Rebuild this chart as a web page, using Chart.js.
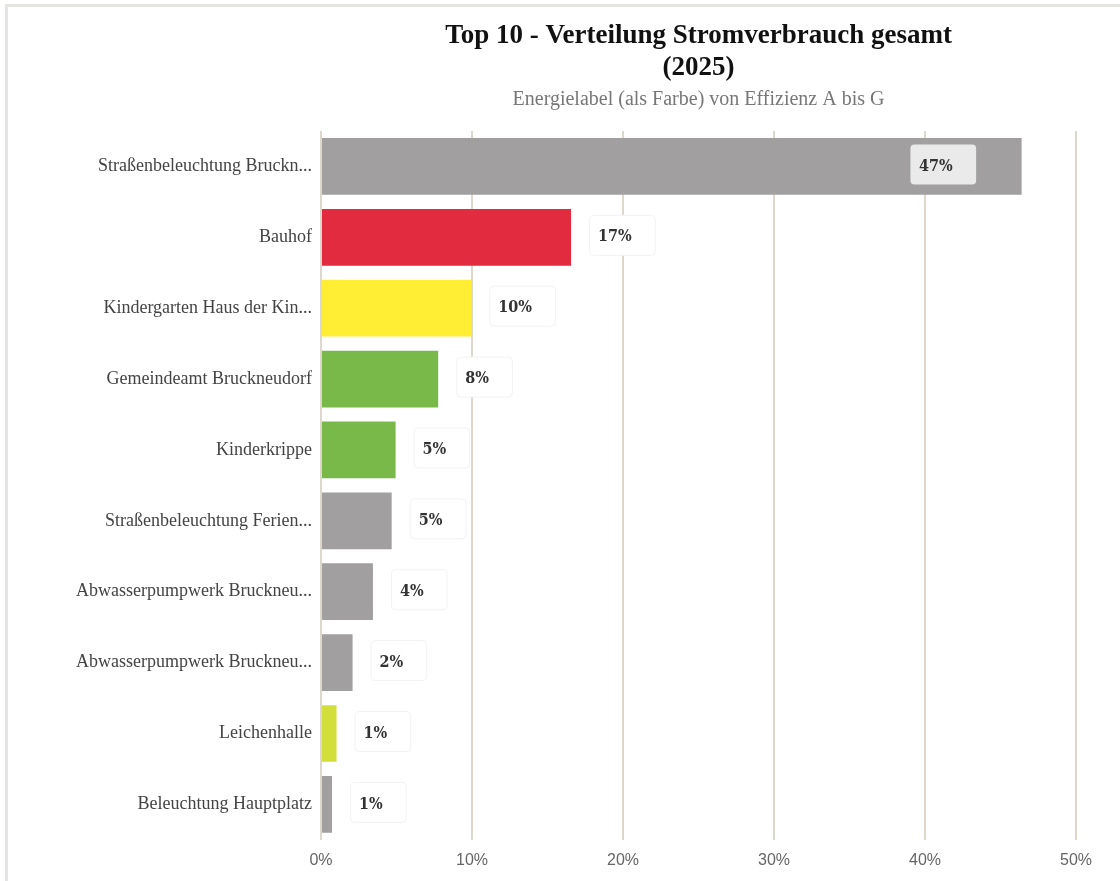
<!DOCTYPE html>
<html>
<head>
<meta charset="utf-8">
<script src="https://cdn.jsdelivr.net/npm/chart.js@4/dist/chart.umd.min.js"></script>
<style>
  html, body { margin: 0; padding: 0; background: #ffffff; overflow: hidden; }
  #frame { position: absolute; left: 5px; top: 4px; width: 1300px; height: 1100px;
           border-left: 3px solid #e5e5e1; border-top: 3px solid #e5e5e1; box-sizing: border-box; }
  #wrap { position: absolute; left: 0; top: 0; width: 1120px; height: 881px; }
</style>
</head>
<body>
<div id="frame"></div>
<div id="wrap"><canvas id="c"></canvas></div>
<script>
const categories = [
  'Straßenbeleuchtung Bruckn...',
  'Bauhof',
  'Kindergarten Haus der Kin...',
  'Gemeindeamt Bruckneudorf',
  'Kinderkrippe',
  'Straßenbeleuchtung Ferien...',
  'Abwasserpumpwerk Bruckneu...',
  'Abwasserpumpwerk Bruckneu...',
  'Leichenhalle',
  'Beleuchtung Hauptplatz'
];
const shares = [46.4, 16.56, 9.95, 7.76, 4.94, 4.68, 3.44, 2.09, 1.03, 0.73];
const shareLabels = ['47%', '17%', '10%', '8%', '5%', '5%', '4%', '2%', '1%', '1%'];
const barColors = ['#a19f9f', '#e32b3f', '#ffee33', '#78b94a', '#78b94a', '#a19f9f', '#a19f9f', '#a19f9f', '#d2df3a', '#a19f9f'];
const xTicks = [0, 10, 20, 30, 40, 50];

const titleLines = ['Top 10 - Verteilung Stromverbrauch gesamt', '(2025)'];
const subtitleText = 'Energielabel (als Farbe) von Effizienz A bis G';

function roundRect(ctx, x, y, w, h, r) {
  ctx.beginPath();
  ctx.moveTo(x + r, y);
  ctx.lineTo(x + w - r, y);
  ctx.quadraticCurveTo(x + w, y, x + w, y + r);
  ctx.lineTo(x + w, y + h - r);
  ctx.quadraticCurveTo(x + w, y + h, x + w - r, y + h);
  ctx.lineTo(x + r, y + h);
  ctx.quadraticCurveTo(x, y + h, x, y + h - r);
  ctx.lineTo(x, y + r);
  ctx.quadraticCurveTo(x, y, x + r, y);
  ctx.closePath();
}

const valueLabelPlugin = {
  id: 'valueLabels',
  afterDatasetsDraw(chart) {
    const ctx = chart.ctx;
    const meta = chart.getDatasetMeta(0);
    const area = chart.chartArea;
    ctx.save();
    ctx.font = "bold 16px 'DejaVu Serif Condensed', 'DejaVu Serif', serif";
    ctx.textBaseline = 'middle';
    ctx.textAlign = 'left';
    meta.data.forEach((bar, i) => {
      const text = shareLabels[i];
      const w = ctx.measureText(text).width;
      const bw = w + 32, bh = 40;
      let x0 = bar.x + 18;
      let inside = false;
      if (x0 + bw > area.right) {
        inside = true;
        x0 = bar.x - 46 - bw;
      }
      const y0 = bar.y - 2.5 - bh / 2;
      roundRect(ctx, x0 + 0.5, y0 + 0.5, bw, bh, 4);
      if (inside) {
        ctx.fillStyle = '#eaeaea';
        ctx.fill();
      } else {
        ctx.fillStyle = '#ffffff';
        ctx.fill();
        ctx.strokeStyle = '#f2f2f2';
        ctx.lineWidth = 1;
        ctx.stroke();
      }
      ctx.fillStyle = '#333333';
      ctx.fillText(text, x0 + 9, bar.y);
    });
    ctx.restore();
  }
};

new Chart(document.getElementById('c'), {
  type: 'bar',
  data: {
    labels: categories,
    datasets: [{
      data: shares,
      backgroundColor: barColors,
      borderWidth: 0,
      barPercentage: 0.8,
      categoryPercentage: 1.0
    }]
  },
  options: {
    indexAxis: 'y',
    responsive: true,
    maintainAspectRatio: false,
    animation: false,
    layout: { padding: { left: 76, right: 44, top: 0, bottom: 0 } },
    plugins: {
      legend: { display: false },
      tooltip: { enabled: false },
      title: {
        display: true,
        fullSize: false,
        text: titleLines,
        color: '#111111',
        font: { family: 'Liberation Serif', size: 27, weight: 'bold', lineHeight: 32 / 27 },
        padding: { top: 20, bottom: 4 }
      },
      subtitle: {
        display: true,
        fullSize: false,
        text: subtitleText,
        color: '#777777',
        font: { family: 'Liberation Serif', size: 20, lineHeight: 1.2 },
        padding: { top: 0, bottom: 19 }
      }
    },
    scales: {
      x: {
        type: 'linear',
        min: 0,
        max: 50,
        afterBuildTicks(scale) { scale.ticks = xTicks.map(v => ({ value: v })); },
        grid: { color: '#ddd7cc', lineWidth: 2, drawTicks: false },
        border: { display: false },
        ticks: {
          padding: 11,
          color: '#666666',
          font: { family: 'Liberation Sans', size: 16 },
          callback: v => v + '%'
        }
      },
      y: {
        afterFit(scale) { scale.width = 245; },
        grid: { display: false, drawTicks: false },
        border: { display: false },
        ticks: {
          padding: 9,
          color: '#444444',
          font: { family: 'Liberation Serif', size: 18 }
        }
      }
    }
  },
  plugins: [valueLabelPlugin]
});
</script>
</body>
</html>
